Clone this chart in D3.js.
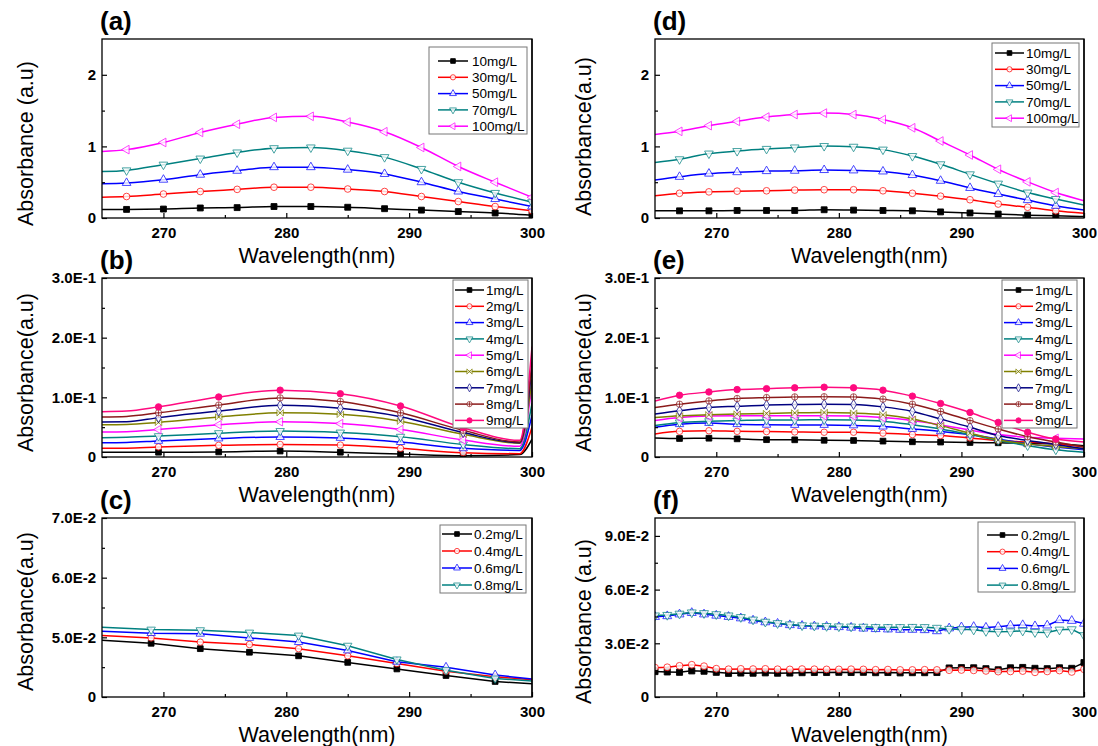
<!DOCTYPE html>
<html><head><meta charset="utf-8">
<script src="https://cdn.jsdelivr.net/npm/d3@7"></script>
<style>
body{margin:0;background:#fff}
text{font-family:"Liberation Sans",Arial,sans-serif}
</style></head>
<body><svg id="c" width="1098" height="746"></svg>
<script>
// ---------------- DATA ----------------
const xMajor = [270,280,290,300];
const xMinor = [275,285,295];

// (a)
const wlA = [265,267,270,273,276,279,282,285,288,291,294,297,300];
const a10  = [0.12,0.12,0.125,0.14,0.145,0.16,0.16,0.15,0.13,0.11,0.09,0.07,0.04];
const a30  = [0.29,0.30,0.335,0.37,0.40,0.43,0.43,0.405,0.37,0.30,0.23,0.16,0.10];
const a50  = [0.48,0.49,0.535,0.605,0.66,0.71,0.71,0.675,0.615,0.50,0.37,0.265,0.16];
const a70  = [0.65,0.665,0.745,0.83,0.915,0.975,0.985,0.94,0.85,0.685,0.50,0.35,0.22];
const a100 = [0.93,0.955,1.055,1.195,1.31,1.405,1.42,1.34,1.205,0.985,0.72,0.50,0.29];
const namesAD = ["10mg/L","30mg/L","50mg/L","70mg/L","100mg/L"];
const yTicksAD = [0,1,2];
const yLabelsAD = ["0","1","2"];
const yMinorAD = [0.5,1.5];

// (d)
const wlD = [265,267,269.4,271.7,274.1,276.4,278.8,281.2,283.6,286,288.3,290.7,293,295.4,297.7,300];
const d10  = [0.10,0.10,0.10,0.105,0.105,0.105,0.115,0.11,0.105,0.10,0.085,0.07,0.055,0.04,0.03,0.02];
const d30  = [0.31,0.345,0.365,0.375,0.38,0.39,0.395,0.395,0.38,0.345,0.305,0.255,0.195,0.15,0.10,0.065];
const d50  = [0.53,0.575,0.62,0.64,0.655,0.66,0.67,0.665,0.65,0.60,0.52,0.42,0.335,0.25,0.17,0.11];
const d70  = [0.775,0.82,0.90,0.935,0.965,0.985,1.005,0.995,0.955,0.865,0.75,0.61,0.48,0.355,0.265,0.18];
const d100 = [1.165,1.21,1.29,1.35,1.41,1.445,1.465,1.445,1.375,1.26,1.075,0.88,0.68,0.505,0.355,0.24];

// (b)
const wlB = [265,267,269.6,274.5,279.5,284.4,289.3,294.4,299,300];
const b1 = [0.008,0.008,0.008,0.0085,0.010,0.008,0.005,0.002,0.004,0.03];
const b2 = [0.0145,0.0148,0.0168,0.0196,0.021,0.020,0.0145,0.0073,0.0056,0.05];
const b3 = [0.024,0.0245,0.027,0.031,0.0335,0.032,0.025,0.0145,0.011,0.07];
const b4 = [0.0324,0.033,0.035,0.040,0.0436,0.041,0.034,0.021,0.014,0.09];
const b5 = [0.042,0.0425,0.046,0.054,0.059,0.056,0.046,0.0285,0.018,0.12];
const b6 = [0.054,0.0545,0.058,0.067,0.074,0.0715,0.060,0.038,0.023,0.13];
const b7 = [0.0587,0.059,0.066,0.077,0.0866,0.0816,0.0676,0.041,0.024,0.15];
const b8 = [0.067,0.068,0.074,0.087,0.099,0.093,0.074,0.0447,0.025,0.16];
const b9 = [0.076,0.077,0.084,0.1006,0.112,0.106,0.0855,0.049,0.028,0.185];
const namesBE = ["1mg/L","2mg/L","3mg/L","4mg/L","5mg/L","6mg/L","7mg/L","8mg/L","9mg/L"];
const yTicksBE = [0,0.1,0.2,0.3];
const yLabelsBE = ["0","1.0E-1","2.0E-1","3.0E-1"];
const yMinorBE = [0.05,0.15,0.25];

// (e)
const wlE = wlD;
const e1 = [0.032,0.031,0.0315,0.0304,0.029,0.0288,0.028,0.0277,0.0266,0.0255,0.025,0.0243,0.0238,0.023,0.022,0.019];
const e2 = [0.0387,0.043,0.044,0.043,0.0426,0.042,0.0415,0.0415,0.040,0.0376,0.036,0.032,0.0277,0.025,0.022,0.0166];
const e3 = [0.050,0.055,0.057,0.055,0.054,0.0537,0.0537,0.053,0.051,0.047,0.043,0.0376,0.030,0.022,0.0166,0.012];
const e4 = [0.0526,0.058,0.060,0.061,0.062,0.062,0.0625,0.062,0.060,0.054,0.047,0.0376,0.0277,0.019,0.012,0.008];
const e5 = [0.061,0.066,0.0686,0.069,0.069,0.069,0.069,0.0686,0.066,0.061,0.0537,0.045,0.0376,0.033,0.0315,0.030];
const e6 = [0.066,0.069,0.0708,0.072,0.073,0.074,0.0747,0.0736,0.0708,0.0636,0.0526,0.040,0.0288,0.022,0.0177,0.0138];
const e7 = [0.072,0.0775,0.083,0.085,0.087,0.088,0.0885,0.088,0.084,0.0764,0.0636,0.050,0.036,0.0277,0.021,0.0138];
const e8 = [0.083,0.0885,0.094,0.098,0.0996,0.1007,0.101,0.1007,0.097,0.0885,0.0764,0.061,0.047,0.034,0.025,0.0166];
const e9 = [0.094,0.1035,0.109,0.113,0.1145,0.116,0.117,0.116,0.112,0.102,0.0896,0.0747,0.058,0.0415,0.030,0.025];

// (c)
const wlC = [265,269,273,277,281,285,289,293,297,300];
const c02 = [0.0495,0.049,0.0481,0.0475,0.0469,0.0458,0.0447,0.0436,0.0426,0.0422];
const c04 = [0.0503,0.0499,0.0492,0.0488,0.0481,0.0469,0.0456,0.0443,0.0434,0.0429];
const c06 = [0.0510,0.0507,0.0506,0.0499,0.0492,0.0478,0.0459,0.0450,0.0437,0.0430];
const c08 = [0.0517,0.0513,0.0512,0.0508,0.0503,0.0486,0.0463,0.0445,0.0431,0.0427];
const namesCF = ["0.2mg/L","0.4mg/L","0.6mg/L","0.8mg/L"];
const yTicksC = [0.04,0.05,0.06,0.07];
const yLabelsC = ["0","5.0E-2","6.0E-2","7.0E-2"];
const yMinorC = [0.045,0.055,0.065];

// (f)
const wlF = [265,266,267,268,269,270,271,272,273,274,275,276,277,278,279,280,281,282,283,284,285,286,287,288,289,290,291,292,293,294,295,296,297,298,299,300];
const f02 = [0.0142,0.0140,0.0138,0.0146,0.0144,0.0138,0.0132,0.0134,0.0133,0.0135,0.0133,0.0134,0.0136,0.0137,0.0137,0.0138,0.0137,0.0138,0.0136,0.0137,0.0135,0.0136,0.0136,0.0137,0.0162,0.0164,0.0163,0.0158,0.0152,0.0163,0.0165,0.0160,0.0158,0.0163,0.0160,0.0192];
const f04 = [0.0164,0.0166,0.0174,0.0180,0.0172,0.0158,0.0155,0.0157,0.0156,0.0157,0.0155,0.0154,0.0156,0.0155,0.0154,0.0154,0.0155,0.0154,0.0152,0.0153,0.0151,0.0151,0.0152,0.0151,0.0150,0.0151,0.0149,0.0146,0.0142,0.0143,0.0145,0.0138,0.0143,0.0148,0.0140,0.0155];
const f06 = [0.0448,0.0452,0.0462,0.0470,0.0462,0.0455,0.0448,0.0440,0.0428,0.0418,0.0410,0.0402,0.0398,0.0395,0.0393,0.0391,0.0388,0.0383,0.0380,0.0378,0.0376,0.0376,0.0374,0.0368,0.0384,0.0390,0.0392,0.0388,0.0392,0.0400,0.0402,0.0396,0.0400,0.0430,0.0426,0.0410];
const f08 = [0.0455,0.0458,0.0465,0.0472,0.0468,0.0462,0.0455,0.0446,0.0432,0.0420,0.0412,0.0405,0.0400,0.0398,0.0396,0.0394,0.0393,0.0392,0.0390,0.0390,0.0390,0.0391,0.0390,0.0386,0.0380,0.0378,0.0376,0.0368,0.0364,0.0366,0.0370,0.0362,0.0360,0.0376,0.0378,0.0345];
const yTicksF = [0,0.03,0.06,0.09];
const yLabelsF = ["0","3.0E-2","6.0E-2","9.0E-2"];
const yMinorF = [0.015,0.045,0.075];

// ---------------- STYLE ----------------
const colors  = ["#000000","#ff0000","#0000ff","#008080","#ff00ff","#808000","#000080","#8b1a1a","#ff0a7f"];
const symbols = ["square","circle","triUp","triDown","triLeft","bowtie","diamond","circlePlus","circleFilled"];

const cols = [{l:102,r:532},{l:655,r:1084}];
const rows = [{t:39,b:218},{t:278,b:457},{t:518,b:697}];

const panels = [
 {lab:"(a)",c:0,r:0,wl:wlA,ser:[a10,a30,a50,a70,a100],names:namesAD,yd:[0,2.5],yt:yTicksAD,ytl:yLabelsAD,ym:yMinorAD,
  title:"Absorbance (a.u)",smooth:true,mk:[266,301],ms:3.3,leg:{x:429,y:47,w:98,h:87,r0:14,dr:16.3,l0:9,l1:39,tx:43},tOff:15},
 {lab:"(b)",c:0,r:1,wl:wlB,ser:[b1,b2,b3,b4,b5,b6,b7,b8,b9],names:namesBE,yd:[0,0.3],yt:yTicksBE,ytl:yLabelsBE,ym:yMinorBE,
  title:"Absorbance(a.u)",smooth:true,mk:[268,298],ms:3.2,leg:{x:453,y:280,w:75,h:148,r0:10,dr:16.3,l0:2,l1:31,tx:33},tOff:5},
 {lab:"(c)",c:0,r:2,wl:wlC,ser:[c02,c04,c06,c08],names:namesCF,yd:[0.04,0.07],yt:yTicksC,ytl:yLabelsC,ym:yMinorC,
  title:"Absorbance(a.u)",smooth:false,mk:[268,298],ms:3.2,leg:{x:440,y:525,w:86,h:68,r0:9,dr:17,l0:2,l1:32,tx:34},tOff:4},
 {lab:"(d)",c:1,r:0,wl:wlD,ser:[d10,d30,d50,d70,d100],names:namesAD,yd:[0,2.5],yt:yTicksAD,ytl:yLabelsAD,ym:yMinorAD,
  title:"Absorbance(a.u)",smooth:true,mk:[266,299],ms:3.3,leg:{x:992,y:43,w:87,h:84,r0:10,dr:16.3,l0:3,l1:32,tx:34},tOff:8},
 {lab:"(e)",c:1,r:1,wl:wlE,ser:[e1,e2,e3,e4,e5,e6,e7,e8,e9],names:namesBE,yd:[0,0.3],yt:yTicksBE,ytl:yLabelsBE,ym:yMinorBE,
  title:"Absorbance(a.u)",smooth:true,mk:[266,299],ms:3.2,leg:{x:1002,y:280,w:75,h:148,r0:10,dr:16.3,l0:2,l1:31,tx:33},tOff:5},
 {lab:"(f)",c:1,r:2,wl:wlF,ser:[f02,f04,f06,f08],names:namesCF,yd:[0,0.1],yt:yTicksF,ytl:yLabelsF,ym:yMinorF,
  title:"Absorbance (a.u)",smooth:false,mk:[265,300],ms:3.4,leg:{x:978,y:522,w:97,h:70,r0:13,dr:16.7,l0:9,l1:40,tx:43},tOff:14}
];

const svg = d3.select("#c");

function drawMarker(g, type, x, y, s, color){
  const area = (s*2)*(s*2);
  let p, rot = 0;
  if(type==="square"){
    p = g.append("path").attr("d", d3.symbol(d3.symbolSquare, area*0.8)()).attr("fill",color).attr("stroke",color);
  } else if(type==="circle"){
    p = g.append("path").attr("d", d3.symbol(d3.symbolCircle, area*0.8)()).attr("fill","#fff").attr("stroke",color);
  } else if(type==="circleFilled"){
    p = g.append("path").attr("d", d3.symbol(d3.symbolCircle, area*0.8)()).attr("fill",color).attr("stroke",color);
  } else if(type==="triUp"){
    p = g.append("path").attr("d", d3.symbol(d3.symbolTriangle, area*0.75)()).attr("fill","#fff").attr("stroke",color);
  } else if(type==="triDown"){
    p = g.append("path").attr("d", d3.symbol(d3.symbolTriangle, area*0.75)()).attr("fill","#fff").attr("stroke",color); rot = 180;
  } else if(type==="triLeft"){
    p = g.append("path").attr("d", d3.symbol(d3.symbolTriangle, area*0.75)()).attr("fill","#fff").attr("stroke",color); rot = -90;
  } else if(type==="diamond"){
    p = g.append("path").attr("d", d3.symbol(d3.symbolDiamond, area*0.7)()).attr("fill","#fff").attr("stroke",color);
  } else if(type==="bowtie"){
    const r=s;
    p = g.append("path").attr("d",`M${-r},${-r}L${r},${r}L${r},${-r}L${-r},${r}Z`).attr("fill","#fff").attr("stroke",color);
  } else if(type==="circlePlus"){
    const r=s;
    const gg = g.append("g").attr("transform",`translate(${x},${y})`).attr("opacity",0.8);
    gg.append("circle").attr("r",r).attr("fill","#fff").attr("stroke",color).attr("stroke-width",0.9);
    gg.append("path").attr("d",`M${-r},0H${r}M0,${-r}V${r}`).attr("stroke",color).attr("stroke-width",0.9);
    return;
  }
  p.attr("transform",`translate(${x},${y}) rotate(${rot})`).attr("stroke-width",0.9)
   .attr("opacity", (type==="square"||type==="circleFilled") ? 1 : 0.8);
}

panels.forEach((P,pi)=>{
  const L=cols[P.c].l, R=cols[P.c].r, T=rows[P.r].t, B=rows[P.r].b;
  const x = d3.scaleLinear().domain([265,300]).range([L,R]);
  const y = d3.scaleLinear().domain(P.yd).range([B,T]);
  const g = svg.append("g");
  const cid = "clip"+pi;
  svg.append("clipPath").attr("id",cid).append("rect").attr("x",L).attr("y",T).attr("width",R-L).attr("height",B-T);

  const plot = g.append("g").attr("clip-path",`url(#${cid})`);
  const line = d3.line().x((d,i)=>x(P.wl[i])).y(d=>y(d)).curve(P.smooth?d3.curveMonotoneX:d3.curveLinear);
  P.ser.forEach((s,si)=>{
    plot.append("path").attr("d",line(s)).attr("fill","none").attr("stroke",colors[si]).attr("stroke-width",1.5);
    const mg = plot.append("g");
    s.forEach((v,i)=>{
      const w = P.wl[i];
      if(w>=P.mk[0] && w<=P.mk[1]) drawMarker(mg, symbols[si], x(w), y(v), P.ms, colors[si]);
    });
  });

  // axes (ticks inward)
  g.append("g").attr("transform",`translate(0,${B})`)
    .call(d3.axisBottom(x).tickValues(xMajor).tickSize(-5).tickPadding(9).tickFormat(d3.format("d")));
  g.append("g").attr("transform",`translate(0,${B})`)
    .call(d3.axisBottom(x).tickValues(xMinor).tickSize(-3).tickFormat(""));
  g.append("g").attr("transform",`translate(${L},0)`)
    .call(d3.axisLeft(y).tickValues(P.yt).tickSize(-5).tickPadding(6).tickFormat((d,i)=>P.ytl[i]));
  g.append("g").attr("transform",`translate(${L},0)`)
    .call(d3.axisLeft(y).tickValues(P.ym).tickSize(-3).tickFormat(""));
  g.selectAll(".domain").remove();
  g.selectAll(".tick line").attr("stroke","#000").attr("stroke-width",1.2);
  g.selectAll(".tick text").attr("font-family",'"Liberation Sans",Arial,sans-serif')
    .attr("font-size",15).attr("font-weight","bold").attr("fill","#000");

  g.append("rect").attr("x",L).attr("y",T).attr("width",R-L).attr("height",B-T)
    .attr("fill","none").attr("stroke","#000").attr("stroke-width",1.3);

  // titles
  g.append("text").attr("x",(L+R)/2).attr("y",B+45).attr("text-anchor","middle")
    .attr("font-size",21.5).text("Wavelength(nm)");
  const yc = (T+B)/2 + P.tOff;
  const tx = P.c===0 ? 33 : 591;
  g.append("text").attr("transform",`translate(${tx},${yc}) rotate(-90)`).attr("text-anchor","middle")
    .attr("font-size",21.5).text(P.title);
  g.append("text").attr("x",L-2).attr("y",T-9).attr("font-size",26).attr("font-weight","bold").text(P.lab);

  // legend
  const lg = P.leg;
  const leg = g.append("g");
  leg.append("rect").attr("x",lg.x).attr("y",lg.y).attr("width",lg.w).attr("height",lg.h)
    .attr("fill","#fff").attr("stroke","#777").attr("stroke-width",1);
  P.names.forEach((n,i)=>{
    const cy = lg.y+lg.r0+i*lg.dr;
    leg.append("line").attr("x1",lg.x+lg.l0).attr("x2",lg.x+lg.l1).attr("y1",cy).attr("y2",cy)
      .attr("stroke",colors[i]).attr("stroke-width",1.5);
    drawMarker(leg, symbols[i], lg.x+(lg.l0+lg.l1)/2, cy, 2.6, colors[i]);
    leg.append("text").attr("x",lg.x+lg.tx).attr("y",cy).attr("dy","0.35em").attr("font-size",13.5).text(n);
  });
  // right axis line drawn over legend edge
  g.append("line").attr("x1",R).attr("x2",R).attr("y1",T).attr("y2",B).attr("stroke","#000").attr("stroke-width",1.3);
});
</script>
</body></html>
